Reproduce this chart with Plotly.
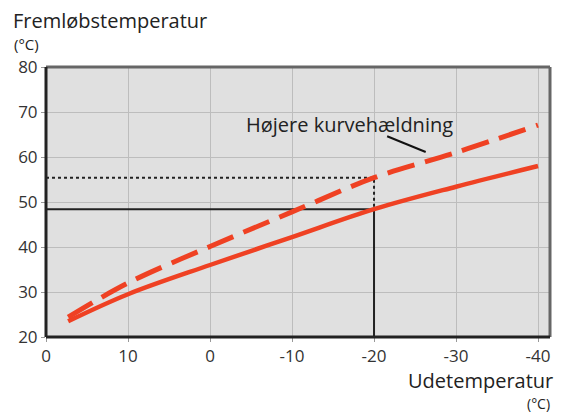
import plotly.graph_objects as go

# Data
outdoor_temps = [17.3, 10, 0, -10, -20, -30, -40]
flow_normal = [23.5, 29.5, 36.0, 42.2, 48.4, 53.4, 58.0]
flow_steeper = [24.4, 32.0, 40.1, 47.8, 55.4, 61.0, 67.1]
x_tick_vals = [20, 10, 0, -10, -20, -30, -40]
x_tick_text = ["0", "10", "0", "-10", "-20", "-30", "-40"]
y_tick_vals = [20, 30, 40, 50, 60, 70, 80]
design_temp = -20
design_flow_normal = 48.4
design_flow_steeper = 55.4

RED = "#EF4123"
x_left = 20
x_right = -41.46
y_min = 20

W, H = 565, 412
pl, pr, pt, pb = 46, 15, 67, 75
pw, ph = W - pl - pr, H - pt - pb


def px(x):
    return (x - pl) / pw


def py(y):
    return (H - pb - y) / ph


fig = go.Figure()

# reference lines (solid black for normal curve)
fig.add_trace(go.Scatter(x=[x_left, design_temp, design_temp],
                         y=[design_flow_normal, design_flow_normal, y_min],
                         mode="lines", line=dict(color="#222222", width=2),
                         hoverinfo="skip", showlegend=False))
# dotted black for steeper curve
fig.add_trace(go.Scatter(x=[x_left, design_temp, design_temp],
                         y=[design_flow_steeper, design_flow_steeper, design_flow_normal],
                         mode="lines", line=dict(color="#222222", width=2, dash="3px,3px"),
                         hoverinfo="skip", showlegend=False))

fig.add_trace(go.Scatter(x=outdoor_temps, y=flow_normal, mode="lines",
                         line=dict(color=RED, width=4.5, shape="spline"),
                         showlegend=False))
fig.add_trace(go.Scatter(x=outdoor_temps, y=flow_steeper, mode="lines",
                         line=dict(color=RED, width=5, shape="spline", dash="28px,11px"),
                         showlegend=False))

# leader line for annotation
fig.add_trace(go.Scatter(x=[-21.6, -26.3], y=[64.6, 61.1], mode="lines",
                         line=dict(color="#111111", width=2),
                         hoverinfo="skip", showlegend=False))

fig.update_layout(
    width=W, height=H,
    margin=dict(l=pl, r=pr, t=pt, b=pb),
    paper_bgcolor="white",
    plot_bgcolor="#E0E0E0",
    font=dict(family="Open Sans, sans-serif", color="#222222"),
    xaxis=dict(range=[x_left, x_right], tickvals=x_tick_vals, ticktext=x_tick_text,
               showgrid=True, gridcolor="#BDBDBD", gridwidth=1, zeroline=False,
               ticks="outside", ticklen=4, tickcolor="#999999",
               tickfont=dict(size=17, color="#333333", family="Open Sans, sans-serif"),
               showline=False),
    yaxis=dict(range=[20, 80], tickvals=y_tick_vals,
               showgrid=True, gridcolor="#BDBDBD", gridwidth=1, zeroline=False,
               ticks="outside", ticklen=4, tickcolor="#999999",
               tickfont=dict(size=17, color="#333333", family="Open Sans, sans-serif"),
               showline=False),
    shapes=[
        dict(type="line", xref="paper", yref="paper", x0=0, x1=1, y0=1, y1=1,
             line=dict(color="#666666", width=3)),
        dict(type="line", xref="paper", yref="paper", x0=1, x1=1, y0=0, y1=1,
             line=dict(color="#666666", width=3)),
        dict(type="line", xref="paper", yref="paper", x0=0, x1=0, y0=0, y1=1,
             line=dict(color="#222222", width=3)),
        dict(type="line", xref="paper", yref="paper", x0=0, x1=1, y0=0, y1=0,
             line=dict(color="#222222", width=3)),
    ],
)

fig.add_annotation(text="Højere kurvehældning", x=-17.0, y=67.3, xref="x", yref="y",
                   showarrow=False, font=dict(size=20, color="#222222"))
fig.add_annotation(text="Fremløbstemperatur", x=px(11), y=py(20), xref="paper", yref="paper",
                   xanchor="left", yanchor="middle", showarrow=False,
                   font=dict(size=20, color="#222222"))
fig.add_annotation(text="(°C)", x=px(12), y=py(44), xref="paper", yref="paper",
                   xanchor="left", yanchor="middle", showarrow=False,
                   font=dict(size=15, color="#222222"))
fig.add_annotation(text="Udetemperatur", x=px(555), y=py(380), xref="paper", yref="paper",
                   xanchor="right", yanchor="middle", showarrow=False,
                   font=dict(size=20, color="#222222"))
fig.add_annotation(text="(°C)", x=px(552), y=py(403), xref="paper", yref="paper",
                   xanchor="right", yanchor="middle", showarrow=False,
                   font=dict(size=14, color="#222222"))

fig.write_html("out.html", config={"displayModeBar": False})

# remove default page margin so the figure sits at the window's top-left corner
with open("out.html", "r", encoding="utf-8") as f:
    html = f.read()
html = html.replace("<head>", "<head><style>html,body{margin:0;padding:0;overflow:hidden;}</style>", 1)
with open("out.html", "w", encoding="utf-8") as f:
    f.write(html)
